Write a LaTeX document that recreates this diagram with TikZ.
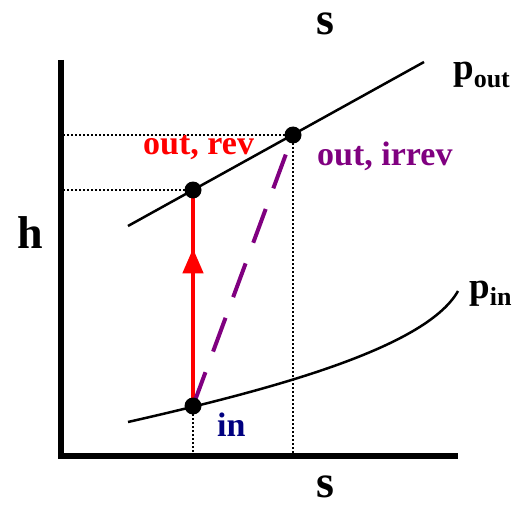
\documentclass[tikz,border=0pt]{standalone}
\usepackage{fontspec}
\setmainfont{Liberation Serif}
\usetikzlibrary{arrows.meta,decorations.markings}
\definecolor{revred}{RGB}{255,0,0}
\definecolor{irrevpurple}{RGB}{128,0,128}
\definecolor{innavy}{RGB}{0,0,128}

\begin{document}
\begin{tikzpicture}[
  x=1pt, y=-1pt,
  axis/.style={line width=6pt, line join=miter},
  isobar/.style={line width=2.5pt},
  guide/.style={line width=1.2pt, dash pattern=on 2pt off 2pt},
  dot/.style={circle, fill=black, inner sep=0pt, minimum size=17pt},
  lbl/.style={font=\bfseries\fontsize{34}{36}\selectfont, inner sep=0pt},
  big/.style={font=\bfseries\fontsize{46}{48}\selectfont, inner sep=0pt},
  revpath/.style={draw=revred, line width=4.5pt, postaction={decorate},
    decoration={markings, mark=at position 0.73 with {\arrow[revred]{Triangle[length=25pt,width=20pt]}}}},
  irrevpath/.style={draw=irrevpurple, line width=4pt, dash pattern=on 36pt off 22pt}
]
\useasboundingbox (0,0) rectangle (514,508);

% Axes corners and state points
\coordinate (ytop) at (61,60);
\coordinate (orig) at (61,456);
\coordinate (xend) at (458,456);
\coordinate (in) at (193,406);
\coordinate (outrev) at (193,190);
\coordinate (outirrev) at (293,135);

% Isobars
\coordinate (poutL) at (128,226);
\coordinate (poutR) at (424,62);
\coordinate (pinL) at (128,422);
\coordinate (pinR) at (458,291);
\draw[isobar] (poutL) -- (poutR);
\draw[isobar] (pinL) .. controls (260,392) and (425,350) .. (pinR);

% Guide lines to the axes
\draw[guide] (outirrev) -- (outirrev -| orig);
\draw[guide] (outrev) -- (outrev -| orig);
\draw[guide] (outirrev) -- (outirrev |- orig);
\draw[guide] (in) -- (in |- orig);

% Axes
\draw[axis] (ytop) -- (orig) -- (xend);

% Processes
\draw[revpath] (in) -- (outrev);
\draw[irrevpath] (in) -- (outirrev);

% State points
\node[dot] (inpt) at (in) {};
\node[dot] (revpt) at (outrev) {};
\node[dot] (irrevpt) at (outirrev) {};

% Labels
\node[big, anchor=base] (stop) at (325,35) {s};
\node[big, anchor=base] (sbot) at (325,497) {s};
\node[big, anchor=base] (hlbl) at (30,248) {h};
\node[lbl, anchor=base west, text=revred] (revlbl) at (143,154) {out, rev};
\node[lbl, anchor=base west, text=irrevpurple] (irrevlbl) at (317,165) {out, irrev};
\node[lbl, anchor=base west, text=innavy] (inlbl) at (217,436) {in};
\node[anchor=base west, inner sep=0pt, font=\bfseries\fontsize{37}{38}\selectfont] (poutlbl) at (453,80)
  {p\raisebox{-8pt}{\fontsize{26}{26}\selectfont out}};
\node[anchor=base west, inner sep=0pt, font=\bfseries\fontsize{37}{38}\selectfont] (pinlbl) at (469,298)
  {p\raisebox{-7pt}{\fontsize{26}{26}\selectfont in}};

\end{tikzpicture}
\end{document}
